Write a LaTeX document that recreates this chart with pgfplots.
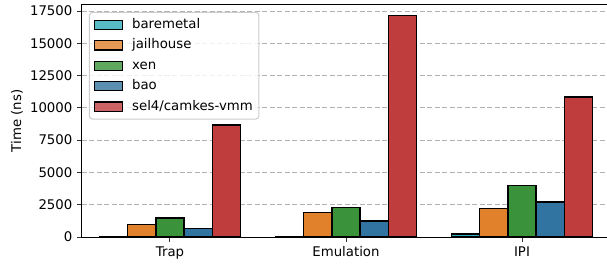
\documentclass[border=0pt]{standalone}
\usepackage{pgfplots}
\pgfplotsset{compat=1.18}
\usepackage{fontspec}
\setmainfont{DejaVu Sans}
\definecolor{cbare}{HTML}{2EABB8}
\definecolor{cjail}{HTML}{E1812C}
\definecolor{cxen}{HTML}{3A923A}
\definecolor{cbao}{HTML}{3274A1}
\definecolor{csel}{HTML}{C03D3E}
\begin{document}
\fontsize{13.3}{16}\selectfont
\begin{tikzpicture}
\useasboundingbox (-82pt,-28pt) rectangle (525pt,237pt);
\begin{axis}[
  scale only axis, width=528pt, height=232pt,
  ybar=0pt, bar width=0.16,
  xmin=-0.5, xmax=2.5, ymin=0, ymax=17965,
  xtick={0,1,2}, xticklabels={Trap,Emulation,IPI},
  ytick={0,2500,...,17500},
  scaled y ticks=false,
  xtick pos=left, ytick pos=left,
  tick align=outside, major tick length=5pt,
  tick style={black!80, line width=1pt},
  axis line style={black, line width=1pt},
  /pgf/number format/assume math mode=true,
  /pgf/number format/1000 sep={},
  /pgf/number format/fixed,
  ymajorgrids, grid style={dashed, color=black!30, line width=1pt, dash pattern=on 5pt off 2.5pt},
  ylabel={Time (ns)},
  ylabel style={yshift=-2pt},
  tick label style={font=\fontsize{13.3}{16}\selectfont},
  label style={font=\fontsize{13.3}{16}\selectfont},
  legend image code/.code={\path[draw=none,fill=none] (0pt,0pt) -- (36pt,0pt); \draw[#1, line width=1.3pt, sharp corners] (0pt,-4.6pt) rectangle (28pt,4.6pt);},
  legend cell align=left,
  legend style={at={(0,1)}, anchor=north west, xshift=7pt, yshift=-7pt,
    draw=black!20, line width=1pt, rounded corners=3pt, fill=white, fill opacity=0.8, text opacity=1,
    inner sep=4.5pt, row sep=4.4pt,
    font=\fontsize{13.3}{16}\selectfont,
    nodes={inner sep=1.5pt, text height=10pt, text depth=3pt}},
  every axis plot/.append style={draw=black, line width=1.3pt},
]
\addplot[fill=cbare, bar shift=-0.32] coordinates {(0,20) (1,30) (2,230)};
\addplot[fill=cjail, bar shift=-0.16] coordinates {(0,950) (1,1880) (2,2220)};
\addplot[fill=cxen, bar shift=0] coordinates {(0,1470) (1,2300) (2,4000)};
\addplot[fill=cbao, bar shift=0.16] coordinates {(0,640) (1,1240) (2,2710)};
\addplot[fill=csel, bar shift=0.32] coordinates {(0,8670) (1,17130) (2,10840)};
\legend{baremetal,jailhouse,xen,bao,sel4/camkes-vmm}
\end{axis}
\end{tikzpicture}
\end{document}
